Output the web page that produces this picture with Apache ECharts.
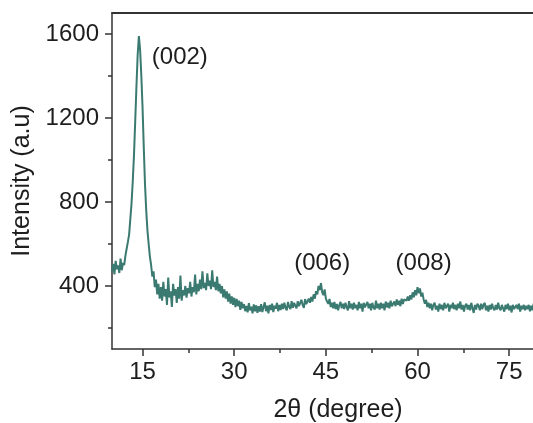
<!DOCTYPE html>
<html>
<head>
<meta charset="utf-8">
<title>XRD pattern</title>
<script src="https://cdn.jsdelivr.net/npm/echarts@6/dist/echarts.min.js"></script>
<style>
  html, body { margin: 0; padding: 0; background: #fff; }
  #chart { width: 533px; height: 423px; }
</style>
</head>
<body>
<div id="chart"></div>
<script>
// 2theta sampling: first angle and step (degree)
var angleStart = 10;
var angleStep = 0.2;

// intensity, 10 values per 2 degrees
var intensity = [
    470, 505, 455, 520, 480, 498, 462, 530, 475, 510,      // 10
    500, 545, 550, 610, 645, 720, 795, 900, 1025, 1185,    // 12
    1350, 1500, 1590, 1525, 1400, 1250, 1060, 885, 760, 665, // 14
    600, 540, 500, 445, 470, 395, 430, 360, 410, 340,      // 16
    395, 330, 420, 350, 385, 310, 440, 345, 375, 300,      // 18
    410, 355, 385, 320, 395, 340, 450, 330, 380, 355,      // 20
    400, 345, 390, 365, 420, 350, 395, 370, 455, 360,      // 22
    410, 375, 430, 385, 470, 390, 415, 380, 460, 400,      // 24
    425, 385, 475, 395, 420, 380, 445, 375, 410, 365,      // 26
    400, 346, 384, 340, 374, 326, 364, 316, 350, 310,      // 28
    344, 300, 338, 304, 330, 286, 324, 294, 314, 280,      // 30
    305, 275, 318, 284, 302, 270, 312, 280, 308, 272,      // 32
    304, 278, 314, 276, 300, 322, 280, 306, 270, 310,      // 34
    286, 316, 276, 306, 292, 320, 280, 310, 286, 316,      // 36
    290, 320, 296, 284, 324, 300, 290, 328, 296, 320,      // 38
    306, 294, 328, 304, 300, 334, 310, 296, 338, 314,      // 40
    312, 340, 320, 348, 326, 360, 340, 376, 360, 400,      // 42
    380, 414, 370, 356, 384, 340, 326, 316, 338, 300,      // 44
    320, 294, 324, 290, 314, 284, 308, 324, 294, 316,      // 46
    290, 320, 300, 284, 328, 294, 316, 288, 320, 294,      // 48
    310, 284, 324, 294, 316, 278, 320, 298, 290, 324,      // 50
    294, 316, 284, 320, 298, 288, 330, 294, 316, 288,      // 52
    320, 294, 316, 284, 326, 298, 320, 294, 330, 304,      // 54
    300, 326, 304, 336, 310, 330, 304, 340, 314, 336,      // 56
    334, 330, 350, 330, 356, 336, 370, 346, 380, 356,      // 58
    394, 366, 388, 350, 368, 336, 316, 334, 300, 320,      // 60
    294, 316, 284, 310, 320, 288, 306, 278, 316, 290,      // 62
    310, 284, 320, 294, 288, 316, 278, 310, 294, 320,      // 64
    290, 310, 284, 316, 294, 326, 288, 310, 278, 306,      // 66
    316, 288, 310, 284, 320, 294, 272, 310, 288, 316,      // 68
    306, 284, 316, 290, 310, 320, 284, 306, 278, 310,      // 70
    288, 316, 294, 284, 310, 288, 320, 294, 284, 310,      // 72
    306, 278, 310, 290, 316, 284, 306, 274, 310, 290,      // 74
    284, 310, 290, 316, 278, 306, 290, 310, 284, 306,      // 76
    290, 310, 280, 306, 284, 316, 290, 284, 306, 290,      // 78
    300
];

// reflection labels
var hklNames = ['(002)', '(006)', '(008)'];
var hklAngles = [21.1, 44.4, 61.0];
var hklHeights = [1488, 509, 509];

// axis ticks
var xMajor = [15, 30, 45, 60, 75];
var xMinor = [22.5, 37.5, 52.5, 67.5];
var yMajor = [400, 800, 1200, 1600];
var yMinor = [200, 600, 1000, 1400];

var font = "'Liberation Sans', Arial, sans-serif";
var ink = '#333';
var txt = '#1e1e1e';

var curve = intensity.map(function (v, i) {
    return [+(angleStart + i * angleStep).toFixed(1), v];
});
var peaks = hklNames.map(function (n, i) {
    return { name: n, coord: [hklAngles[i], hklHeights[i]] };
});

var myChart = echarts.init(document.getElementById('chart'));

var option = {
    backgroundColor: '#fff',
    animation: false,
    textStyle: { fontFamily: font },
    grid: { left: 112, right: 0, top: 13, bottom: 74, outerBoundsMode: 'none', containLabel: false },
    xAxis: [{
        type: 'value', min: 10, max: 78.9, position: 'bottom',
        name: '2\u03b8 (degree)', nameLocation: 'middle', nameGap: 49,
        nameTextStyle: { fontSize: 25, color: txt, fontFamily: font, padding: [0, 0, 0, 31] },
        axisLine: { onZero: false, lineStyle: { color: ink, width: 1.5 } },
        axisTick: { customValues: xMajor, length: 7, lineStyle: { color: ink, width: 1.5 } },
        axisLabel: { customValues: xMajor, fontSize: 24, color: txt, margin: 11, fontFamily: font },
        splitLine: { show: false }
    }, {
        type: 'value', min: 10, max: 78.9, position: 'bottom',
        axisLine: { show: false, onZero: false },
        axisTick: { customValues: xMinor, length: 4, lineStyle: { color: ink, width: 1.5 } },
        axisLabel: { show: false },
        splitLine: { show: false }
    }, {
        type: 'value', min: 10, max: 78.9, position: 'top',
        axisLine: { show: true, onZero: false, lineStyle: { color: ink, width: 1.8 } },
        axisTick: { show: false },
        axisLabel: { show: false },
        splitLine: { show: false }
    }],
    yAxis: [{
        type: 'value', min: 100, max: 1700, position: 'left',
        name: 'Intensity (a.u)', nameLocation: 'middle', nameGap: 77,
        nameTextStyle: { fontSize: 25, color: txt, fontFamily: font },
        axisLine: { show: true, onZero: false, lineStyle: { color: ink, width: 1.5 } },
        axisTick: { show: true, customValues: yMajor, length: 7, lineStyle: { color: ink, width: 1.5 } },
        axisLabel: {
            customValues: yMajor, fontSize: 24, color: txt, margin: 13, fontFamily: font,
            formatter: function (v) { return String(v); }
        },
        splitLine: { show: false }
    }, {
        type: 'value', min: 100, max: 1700, position: 'left',
        axisLine: { show: false, onZero: false },
        axisTick: { show: true, customValues: yMinor, length: 4, lineStyle: { color: ink, width: 1.5 } },
        axisLabel: { show: false },
        splitLine: { show: false }
    }],
    series: [{
        name: 'XRD',
        type: 'line',
        xAxisIndex: 0,
        yAxisIndex: 0,
        data: curve,
        showSymbol: false,
        clip: true,
        lineStyle: { color: '#3b7a70', width: 2 },
        silent: true,
        markPoint: {
            symbol: 'circle',
            symbolSize: 0,
            silent: true,
            label: {
                show: true, position: 'inside', formatter: '{b}',
                fontSize: 24, color: txt, fontFamily: font
            },
            data: peaks
        }
    }]
};

myChart.setOption(option);
</script>
</body>
</html>
